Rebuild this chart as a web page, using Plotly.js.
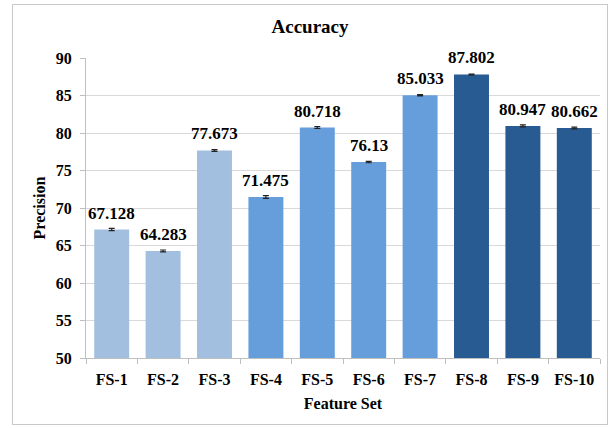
<!DOCTYPE html>
<html>
<head>
<meta charset="utf-8">
<script src="https://cdn.plot.ly/plotly-3.0.1.min.js"></script>
<style>
html,body{margin:0;padding:0;background:#fff;}
#frame{position:absolute;left:12px;top:4px;width:594px;height:419px;border:1px solid #c9c9c9;}
#chart{width:594px;height:419px;}
</style>
</head>
<body>
<div id="frame"><div id="chart"></div></div>
<script>
const categories = ["FS-1","FS-2","FS-3","FS-4","FS-5","FS-6","FS-7","FS-8","FS-9","FS-10"];
const values = [67.128, 64.283, 77.673, 71.475, 80.718, 76.13, 85.033, 87.802, 80.947, 80.662];
const errors = [0.15, 0.12, 0.12, 0.18, 0.12, 0.1, 0.08, 0.06, 0.14, 0.12];
const labels = ["67.128","64.283","77.673","71.475","80.718","76.13","85.033","87.802","80.947","80.662"];
const groups = [0,0,0,1,1,1,1,2,2,2];

const palette = ["#a3bfe0", "#669edb", "#275b91"];
const font = "Liberation Serif, Times New Roman, serif";

const trace = {
  type: "bar",
  x: categories,
  y: values,
  cliponaxis: false,
  marker: {color: groups.map(g => palette[g])},
  width: 0.68,
  error_y: {type: "data", array: errors, visible: true, color: "#222", thickness: 1.2, width: 3},
  hoverinfo: "none"
};

const annotations = categories.map((c, i) => ({
  x: c, y: values[i], xref: "x", yref: "y",
  text: "<b>" + labels[i] + "</b>",
  showarrow: false, yanchor: "bottom", yshift: 5,
  font: {family: font, size: 17, color: "#000"}
}));

const layout = {
  width: 594, height: 419,
  margin: {l: 73, r: 7, t: 53, b: 66},
  paper_bgcolor: "#fff", plot_bgcolor: "#fff",
  showlegend: false,
  annotations: annotations,
  title: {text: "<b>Accuracy</b>", font: {family: font, size: 19, color: "#000"}, x: 0.5, xanchor: "center", y: 1, yanchor: "top", yref: "container", pad: {t: 15}},
  xaxis: {
    type: "category",
    tickfont: {family: font, size: 16, color: "#000", weight: "bold"},
    ticklabelstandoff: 7,
    title: {text: "<b>Feature Set</b>", font: {family: font, size: 16, color: "#000"}, standoff: 10},
    showline: true, linecolor: "#bfbfbf", linewidth: 1,
    ticks: "outside", tickson: "boundaries", ticklen: 5, tickcolor: "#bfbfbf",
    showgrid: false
  },
  yaxis: {
    range: [50, 90],
    tickvals: [50,55,60,65,70,75,80,85,90],
    tickfont: {family: font, size: 16, color: "#000", weight: "bold"},
    ticklabelstandoff: 5,
    title: {text: "<b>Precision</b>", font: {family: font, size: 16, color: "#000"}, standoff: 6},
    showline: true, linecolor: "#bfbfbf", linewidth: 1,
    ticks: "outside", ticklen: 5, tickcolor: "#bfbfbf",
    showgrid: true, gridcolor: "#d9d9d9", gridwidth: 1,
    zeroline: false
  },
  bargap: 0.32
};

Plotly.newPlot("chart", [trace], layout, {displayModeBar: false, staticPlot: true});
</script>
</body>
</html>
